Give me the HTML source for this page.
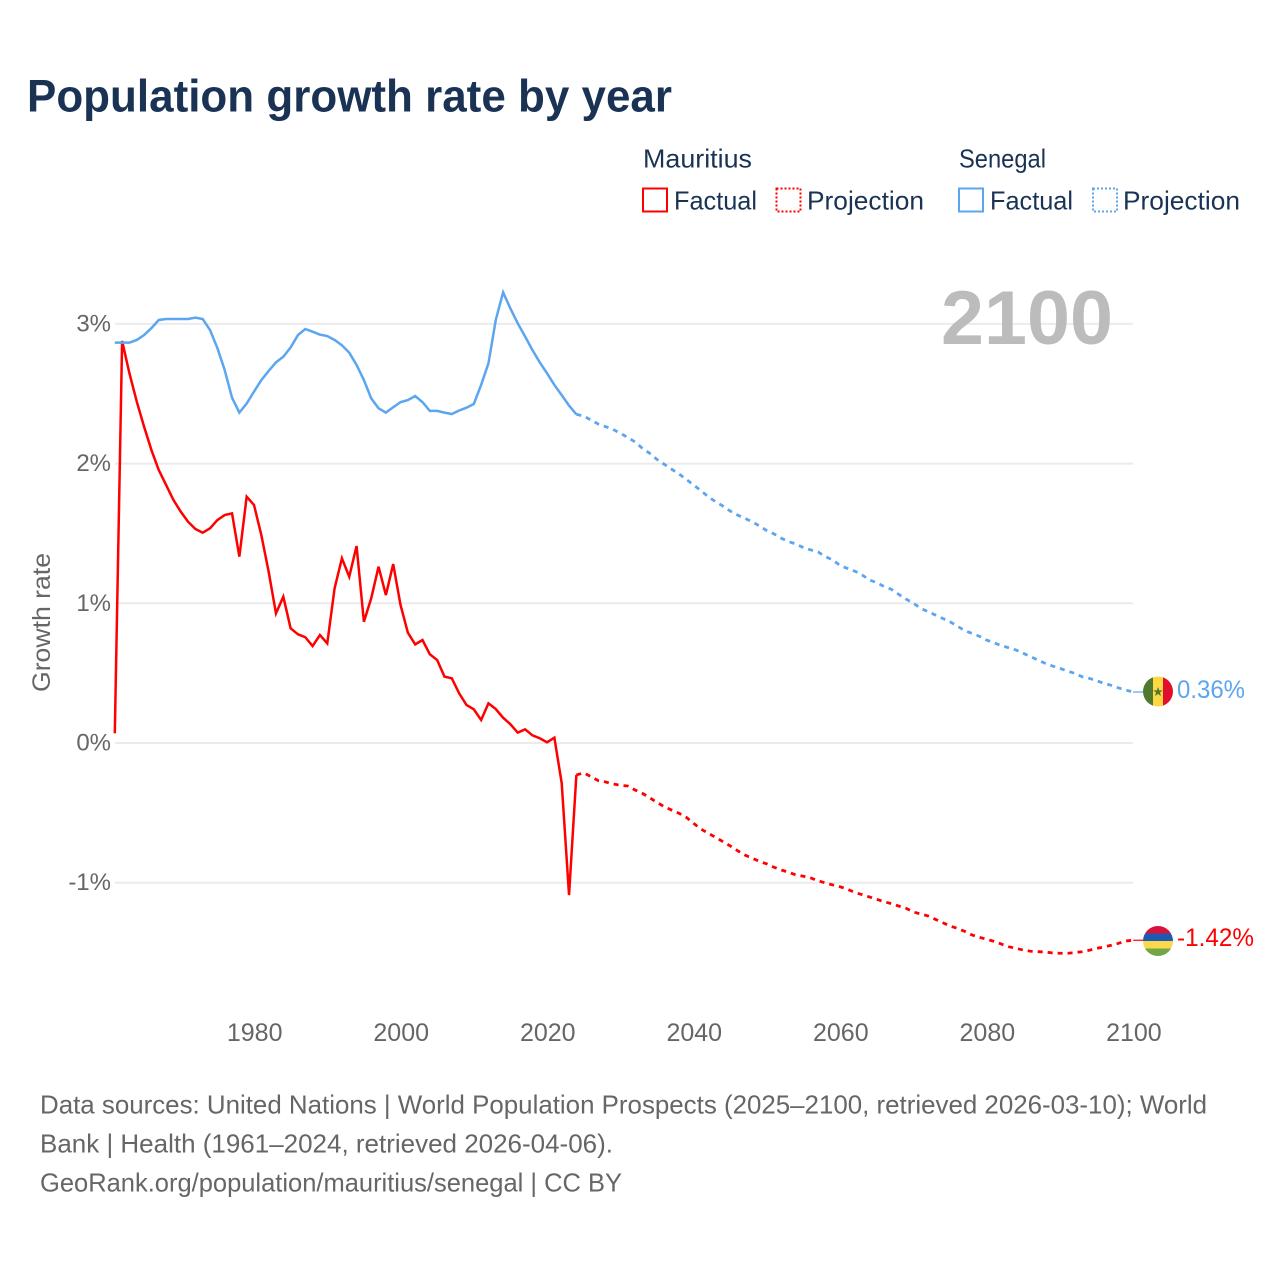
<!DOCTYPE html>
<html lang="en">
<head>
<meta charset="utf-8">
<title>Population growth rate by year</title>
<style>
html,body{margin:0;padding:0;background:#fff}
svg{display:block;font-family:"Liberation Sans",sans-serif}
</style>
</head>
<body>
<svg id="chart" width="1280" height="1280" viewBox="0 0 1280 1280" xmlns="http://www.w3.org/2000/svg">
  <defs>
    <clipPath id="clip-sn"><circle cx="1158" cy="691.5" r="15"/></clipPath>
    <clipPath id="clip-mu"><circle cx="1158" cy="941" r="15"/></clipPath>
  </defs>
  <rect width="1280" height="1280" fill="#fff"/>
  <text x="27" y="111.5" font-size="45" font-weight="700" fill="#1a3354" textLength="645" lengthAdjust="spacingAndGlyphs">Population growth rate by year</text>

  <g font-size="26" fill="#1a3354">
    <text x="643" y="167.5" textLength="109" lengthAdjust="spacingAndGlyphs">Mauritius</text>
    <text x="959" y="167.5" textLength="87" lengthAdjust="spacingAndGlyphs">Senegal</text>
    <g>
      <rect x="643" y="188.5" width="24" height="23" fill="none" stroke="#ff0000" stroke-width="2"/>
      <text x="674" y="209.5" textLength="83" lengthAdjust="spacingAndGlyphs">Factual</text>
    </g>
    <g>
      <rect x="776.5" y="188.5" width="24" height="23" fill="none" stroke="#ff0000" stroke-width="2" stroke-dasharray="2 2"/>
      <text x="807" y="209.5" textLength="117" lengthAdjust="spacingAndGlyphs">Projection</text>
    </g>
    <g>
      <rect x="959" y="188.5" width="24" height="23" fill="none" stroke="#5ca5ef" stroke-width="2"/>
      <text x="990" y="209.5" textLength="83" lengthAdjust="spacingAndGlyphs">Factual</text>
    </g>
    <g>
      <rect x="1093" y="188.5" width="24" height="23" fill="none" stroke="#5ca5ef" stroke-width="2" stroke-dasharray="2 2"/>
      <text x="1123" y="209.5" textLength="117" lengthAdjust="spacingAndGlyphs">Projection</text>
    </g>
  </g>

  <g id="grid"></g>
  <g id="y-ticks" font-size="24" fill="#666"></g>
  <g id="x-ticks" font-size="25" fill="#666"></g>
  <text transform="translate(50,622.5) rotate(-90)" text-anchor="middle" font-size="25" fill="#666" textLength="139" lengthAdjust="spacingAndGlyphs">Growth rate</text>

  <text id="year-label" x="941" y="344" font-size="76" font-weight="700" fill="#bcbcbc" textLength="172" lengthAdjust="spacingAndGlyphs">2100</text>

  <g id="series"></g>

  <g clip-path="url(#clip-sn)">
    <rect x="1143" y="676" width="10" height="31" fill="#4f7a2d"/>
    <rect x="1153" y="676" width="10" height="31" fill="#fdd744"/>
    <rect x="1163" y="676" width="10" height="31" fill="#e0102c"/>
    <polygon points="1158,687 1159.2,690.4 1162.8,690.4 1159.9,692.6 1161,696 1158,694 1155,696 1156.1,692.6 1153.2,690.4 1156.8,690.4" fill="#4f7a2d"/>
  </g>
  <g clip-path="url(#clip-mu)">
    <rect x="1143" y="926" width="30" height="8" fill="#d8123a"/>
    <rect x="1143" y="933.5" width="30" height="7.5" fill="#1d5bb0"/>
    <rect x="1143" y="941" width="30" height="7.5" fill="#fbd84e"/>
    <rect x="1143" y="948.5" width="30" height="7.5" fill="#70a644"/>
  </g>
  <text x="1177" y="698" font-size="25" fill="#5ca5ef" textLength="68" lengthAdjust="spacingAndGlyphs">0.36%</text>
  <text x="1177" y="946" font-size="25" fill="#ff0000" textLength="77" lengthAdjust="spacingAndGlyphs">-1.42%</text>

  <g font-size="26" fill="#666">
    <text x="40" y="1113.5" textLength="1167" lengthAdjust="spacingAndGlyphs">Data sources: United Nations | World Population Prospects (2025–2100, retrieved 2026-03-10); World</text>
    <text x="40" y="1152.5" textLength="573" lengthAdjust="spacingAndGlyphs">Bank | Health (1961–2024, retrieved 2026-04-06).</text>
    <text x="40" y="1191.5" textLength="582" lengthAdjust="spacingAndGlyphs">GeoRank.org/population/mauritius/senegal | CC BY</text>
  </g>
</svg>
<script>
const factualStartYear = 1961;
const projectionStartYear = 2024;
const xTickYears = [1980, 2000, 2020, 2040, 2060, 2080, 2100];
const yTickValues = [3, 2, 1, 0, -1];
const yTickLabels = ["3%", "2%", "1%", "0%", "-1%"];

const senegalFactual = [2.866,2.866,2.866,2.885,2.92,2.97,3.028,3.035,3.035,3.035,3.035,3.045,3.035,2.956,2.827,2.67,2.472,2.365,2.43,2.515,2.598,2.663,2.725,2.765,2.832,2.92,2.963,2.944,2.923,2.913,2.885,2.847,2.794,2.706,2.598,2.467,2.396,2.365,2.403,2.44,2.455,2.484,2.44,2.377,2.377,2.365,2.355,2.38,2.40,2.427,2.563,2.718,3.028,3.226,3.11,3.004,2.91,2.813,2.725,2.646,2.563,2.49,2.415,2.353];
const senegalProjection = [2.353,2.34,2.312,2.283,2.264,2.245,2.217,2.188,2.155,2.11,2.074,2.03,1.995,1.96,1.926,1.887,1.847,1.806,1.763,1.727,1.696,1.66,1.632,1.608,1.584,1.553,1.52,1.496,1.465,1.441,1.424,1.398,1.382,1.367,1.334,1.31,1.27,1.25,1.23,1.203,1.167,1.148,1.12,1.10,1.064,1.03,1.0,0.964,0.94,0.916,0.892,0.868,0.837,0.804,0.785,0.764,0.737,0.718,0.697,0.682,0.666,0.642,0.618,0.594,0.57,0.551,0.535,0.515,0.499,0.475,0.463,0.446,0.427,0.413,0.394,0.379,0.365];
const mauritiusFactual = [0.07,2.878,2.646,2.443,2.264,2.097,1.954,1.847,1.74,1.656,1.584,1.532,1.505,1.537,1.596,1.632,1.644,1.334,1.763,1.704,1.489,1.226,0.928,1.047,0.821,0.778,0.757,0.694,0.773,0.713,1.107,1.322,1.19,1.41,0.868,1.036,1.262,1.059,1.281,0.988,0.79,0.706,0.737,0.635,0.594,0.475,0.463,0.356,0.272,0.241,0.165,0.284,0.243,0.181,0.134,0.074,0.098,0.055,0.034,0.005,0.038,-0.288,-1.088,-0.229];
const mauritiusProjection = [-0.229,-0.213,-0.241,-0.27,-0.279,-0.293,-0.303,-0.308,-0.336,-0.36,-0.392,-0.425,-0.456,-0.48,-0.503,-0.532,-0.575,-0.616,-0.646,-0.675,-0.706,-0.737,-0.771,-0.802,-0.825,-0.847,-0.866,-0.89,-0.909,-0.926,-0.945,-0.954,-0.966,-0.986,-1.002,-1.016,-1.029,-1.047,-1.069,-1.086,-1.102,-1.119,-1.136,-1.15,-1.167,-1.183,-1.21,-1.224,-1.238,-1.262,-1.286,-1.31,-1.327,-1.348,-1.374,-1.391,-1.405,-1.42,-1.439,-1.458,-1.47,-1.482,-1.491,-1.494,-1.496,-1.503,-1.505,-1.505,-1.501,-1.494,-1.484,-1.47,-1.46,-1.448,-1.434,-1.417,-1.412];

const NS = "http://www.w3.org/2000/svg";
function xScale(year) { return 254 + (year - 1980) * 7.3265; }
function yScale(value) { return 743 - value * 139.7; }

const gridGroup = document.getElementById("grid");
const yTickGroup = document.getElementById("y-ticks");
const xTickGroup = document.getElementById("x-ticks");
const seriesGroup = document.getElementById("series");

yTickValues.forEach(function (value, i) {
  const line = document.createElementNS(NS, "line");
  
  
  line.setAttribute("x1", 115);
  line.setAttribute("x2", 1133);
  line.setAttribute("y1", yScale(value));
  line.setAttribute("y2", yScale(value));
  line.setAttribute("stroke", "#ebebeb");
  line.setAttribute("stroke-width", 2);
  gridGroup.appendChild(line);

  const label = document.createElementNS(NS, "text");
  
  
  label.setAttribute("x", 111);
  label.setAttribute("y", yScale(value) + 7.5);
  label.setAttribute("text-anchor", "end");
  label.textContent = yTickLabels[i];
  yTickGroup.appendChild(label);
});

xTickYears.forEach(function (year) {
  const label = document.createElementNS(NS, "text");
  
  
  label.setAttribute("x", xScale(year) + 0.7);
  label.setAttribute("y", 1041);
  label.setAttribute("text-anchor", "middle");
  label.textContent = String(year);
  xTickGroup.appendChild(label);
});

function seriesPath(values, startYear) {
  return values.map(function (v, i) {
    return (i ? "L" : "M") + xScale(startYear + i).toFixed(2) + " " + yScale(v).toFixed(2);
  }).join(" ");
}

const mauritiusFactualLine = document.createElementNS(NS, "path");


mauritiusFactualLine.setAttribute("d", seriesPath(mauritiusFactual, factualStartYear));
mauritiusFactualLine.setAttribute("fill", "none");
mauritiusFactualLine.setAttribute("stroke", "#ff0000");
mauritiusFactualLine.setAttribute("stroke-width", 2.5);
seriesGroup.appendChild(mauritiusFactualLine);

const senegalFactualLine = document.createElementNS(NS, "path");


senegalFactualLine.setAttribute("d", seriesPath(senegalFactual, factualStartYear));
senegalFactualLine.setAttribute("fill", "none");
senegalFactualLine.setAttribute("stroke", "#5ca5ef");
senegalFactualLine.setAttribute("stroke-width", 2.5);
seriesGroup.appendChild(senegalFactualLine);

const mauritiusProjectionLine = document.createElementNS(NS, "path");


mauritiusProjectionLine.setAttribute("d", seriesPath(mauritiusProjection, projectionStartYear));
mauritiusProjectionLine.setAttribute("fill", "none");
mauritiusProjectionLine.setAttribute("stroke", "#ff0000");
mauritiusProjectionLine.setAttribute("stroke-width", 2.8);
mauritiusProjectionLine.setAttribute("stroke-dasharray", "5 5");
seriesGroup.appendChild(mauritiusProjectionLine);

const senegalProjectionLine = document.createElementNS(NS, "path");


senegalProjectionLine.setAttribute("d", seriesPath(senegalProjection, projectionStartYear));
senegalProjectionLine.setAttribute("fill", "none");
senegalProjectionLine.setAttribute("stroke", "#5ca5ef");
senegalProjectionLine.setAttribute("stroke-width", 2.8);
senegalProjectionLine.setAttribute("stroke-dasharray", "5 5");
seriesGroup.appendChild(senegalProjectionLine);

const senegalConnector = document.createElementNS(NS, "line");


senegalConnector.setAttribute("x1", xScale(2100));
senegalConnector.setAttribute("x2", 1143);
senegalConnector.setAttribute("y1", yScale(senegalProjection[senegalProjection.length - 1]));
senegalConnector.setAttribute("y2", yScale(senegalProjection[senegalProjection.length - 1]));
senegalConnector.setAttribute("stroke", "#5ca5ef");
senegalConnector.setAttribute("stroke-width", 1.2);
seriesGroup.appendChild(senegalConnector);

const mauritiusConnector = document.createElementNS(NS, "line");


mauritiusConnector.setAttribute("x1", xScale(2100));
mauritiusConnector.setAttribute("x2", 1143);
mauritiusConnector.setAttribute("y1", yScale(mauritiusProjection[mauritiusProjection.length - 1]));
mauritiusConnector.setAttribute("y2", yScale(mauritiusProjection[mauritiusProjection.length - 1]));
mauritiusConnector.setAttribute("stroke", "#ff0000");
mauritiusConnector.setAttribute("stroke-width", 1.2);
seriesGroup.appendChild(mauritiusConnector);
</script>
</body>
</html>
